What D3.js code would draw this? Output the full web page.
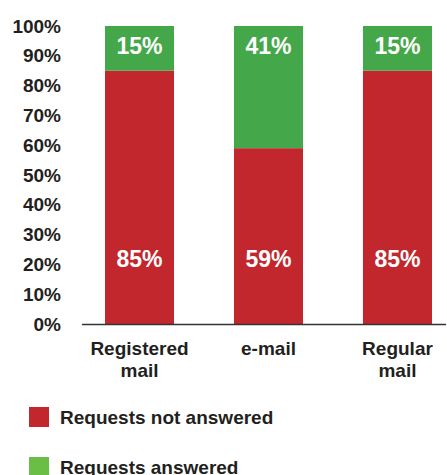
<!DOCTYPE html>
<html>
<head>
<meta charset="utf-8">
<script src="https://cdn.jsdelivr.net/npm/d3@7"></script>
<style>
  body { margin: 0; background: #fff; }
  svg text { font-family: "Liberation Sans", Arial, Helvetica, sans-serif; font-weight: bold; }
</style>
</head>
<body>
<div id="chart"></div>
<script>
const categories = [['Registered', 'mail'], ['e-mail'], ['Regular', 'mail']]
const notAnswered = [85, 59, 85]
const answered = [15, 41, 15]
const yTicks = [0, 10, 20, 30, 40, 50, 60, 70, 80, 90, 100]
const seriesNames = ['Requests not answered', 'Requests answered']

const width = 447
const height = 475
const margin = { top: 26, right: 1, bottom: 151, left: 82 }
const innerWidth = width - margin.left - margin.right
const innerHeight = height - margin.top - margin.bottom

const red = '#c1272d'
const green = '#44a84a'
const legendGreen = '#6abd45'

const svg = d3.select('#chart')
  .append('svg')
  .attr('width', width)
  .attr('height', height)

const g = svg.append('g')
  .attr('transform', `translate(${margin.left}, ${margin.top})`)

const keys = categories.map(c => c.join(' '))

// X scale — one band per category
const x = d3.scaleBand()
  .domain(keys)
  .range([23, 350])
  .paddingInner(0.465)
  .paddingOuter(0)

// Y scale — 0 to 100 percent
const y = d3.scaleLinear()
  .domain([0, 100])
  .range([innerHeight, 0])

// Y tick labels
g.append('g')
  .call(d3.axisLeft(y).tickValues(yTicks).tickFormat(d => d + '%').tickSize(0).tickPadding(21))
  .call(a => a.select('.domain').remove())
  .selectAll('text')
  .attr('fill', '#231f20')
  .style('font-size', '19px')
  .style('font-family', '"Liberation Sans", Arial, sans-serif')
  .style('font-weight', 'bold')

const data = keys.map((k, i) => ({ key: k, lines: categories[i], no: notAnswered[i], yes: answered[i] }))

// red part
g.selectAll('rect.no')
  .data(data)
  .join('rect')
  .attr('class', 'no')
  .attr('x', d => x(d.key))
  .attr('y', d => y(d.no))
  .attr('width', x.bandwidth())
  .attr('height', d => innerHeight - y(d.no))
  .attr('fill', red)

// green part
g.selectAll('rect.yes')
  .data(data)
  .join('rect')
  .attr('class', 'yes')
  .attr('x', d => x(d.key))
  .attr('y', d => y(d.no + d.yes))
  .attr('width', x.bandwidth())
  .attr('height', d => y(d.no) - y(d.no + d.yes))
  .attr('fill', green)

// value labels
g.selectAll('text.no')
  .data(data)
  .join('text')
  .attr('class', 'no')
  .attr('x', d => x(d.key) + x.bandwidth() / 2)
  .attr('y', y(22))
  .attr('dy', '0.36em')
  .attr('text-anchor', 'middle')
  .attr('fill', '#fff')
  .style('font-size', '23px')
  .text(d => d.no + '%')

g.selectAll('text.yes')
  .data(data)
  .join('text')
  .attr('class', 'yes')
  .attr('x', d => x(d.key) + x.bandwidth() / 2)
  .attr('y', y(93.5))
  .attr('dy', '0.36em')
  .attr('text-anchor', 'middle')
  .attr('fill', '#fff')
  .style('font-size', '23px')
  .text(d => d.yes + '%')

// baseline
g.append('line')
  .attr('x1', 0)
  .attr('x2', innerWidth)
  .attr('y1', innerHeight + 0.5)
  .attr('y2', innerHeight + 0.5)
  .attr('stroke', '#333')
  .attr('stroke-width', 1.5)

// category labels
const cat = g.selectAll('text.cat')
  .data(data)
  .join('text')
  .attr('class', 'cat')
  .attr('text-anchor', 'middle')
  .attr('fill', '#231f20')
  .style('font-size', '19px')

cat.selectAll('tspan')
  .data(d => d.lines.map(l => ({ l, cx: x(d.key) + x.bandwidth() / 2 })))
  .join('tspan')
  .attr('x', d => d.cx)
  .attr('y', (d, i) => innerHeight + 31 + i * 22)
  .text(d => d.l)

// legend
const legend = svg.append('g')
  .attr('transform', 'translate(29, 407)')

const items = legend.selectAll('g')
  .data(seriesNames)
  .join('g')
  .attr('transform', (d, i) => `translate(0, ${i * 50})`)

items.append('rect')
  .attr('width', 20)
  .attr('height', 20)
  .attr('fill', (d, i) => i === 0 ? red : legendGreen)

items.append('text')
  .attr('x', 31)
  .attr('y', 10)
  .attr('dy', '0.36em')
  .attr('fill', '#231f20')
  .style('font-size', '19px')
  .text(d => d)
</script>
</body>
</html>
